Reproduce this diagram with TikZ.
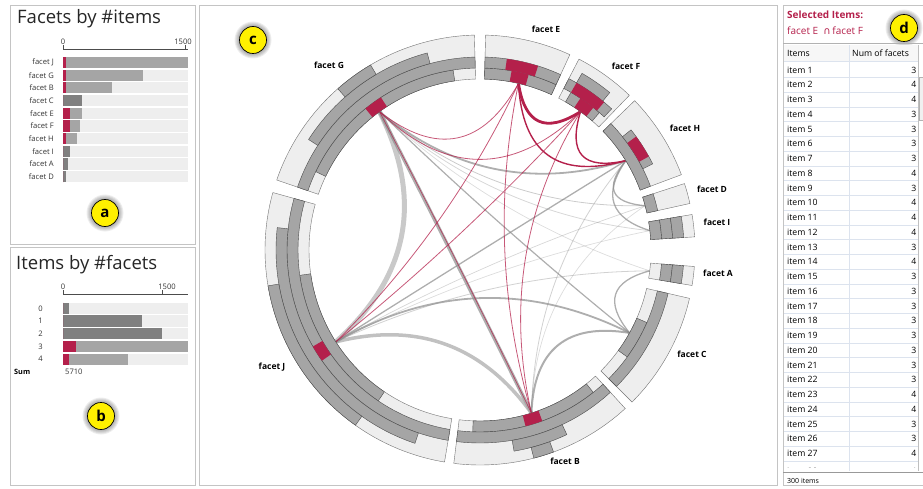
\documentclass[tikz,border=0pt]{standalone}
\usepackage{fontspec}
\setmainfont{Open Sans}
\newfontfamily\symfont{DejaVu Sans}
\usetikzlibrary{calc}

\definecolor{selred}{HTML}{B4204B}
\definecolor{barlight}{HTML}{EEEEEE}
\definecolor{barmid}{HTML}{A5A5A5}
\definecolor{bardark}{HTML}{808080}
\definecolor{frame}{HTML}{C4C4C4}
\definecolor{rowline}{HTML}{DCE3EE}
\definecolor{badgefill}{HTML}{FFF000}

% annular sector: angles #2,#3 and radii #4,#5
\newcommand{\ringsect}[5][]{%
  \draw[#1] (#2:#4) arc[start angle=#2,end angle=#3,radius=#4]
    -- (#3:#5) arc[start angle=#3,end angle=#2,radius=#5] -- cycle;}
% bar in ring #2 (1 = innermost)
\newcommand{\ringpart}[4][ringbar]{%
  \pgfmathsetmacro\rlo{160+11*#2}%
  \pgfmathsetmacro\rhi{171+11*#2}%
  \ringsect[#1]{#3}{#4}{\rlo}{\rhi}}
% link between two facets, quadratic, pulled towards the centre by #4
\newcommand{\chord}[4][]{%
  \path ($($(#2)!.5!(#3)$)!#4!(O)$) coordinate (ctl);
  \draw[#1] (#2) .. controls ($(#2)!.6667!(ctl)$) and ($(#3)!.6667!(ctl)$) .. (#3);}

\begin{document}
\begin{tikzpicture}[x=1pt,y=-1pt,
  panel/.style={draw=frame,line width=0.8pt},
  title/.style={font=\fontsize{18.5}{22}\selectfont,anchor=west,inner sep=0pt,text=black!85},
  small/.style={font=\fontsize{7.6}{9}\selectfont,inner sep=0pt,text=black!80},
  facetlab/.style={font=\bfseries\fontsize{8.5}{10}\selectfont,inner sep=1pt},
  facetbg/.style={fill=barlight,draw=black!55,line width=0.4pt},
  ringbar/.style={fill=barmid,draw=black!70,line width=0.4pt},
  ringsel/.style={fill=selred,draw=none},
  badge/.style={circle,draw=black,line width=0.7pt,fill=badgefill,minimum size=27pt,
    inner sep=0pt,font=\bfseries\fontsize{15}{15}\selectfont},
  cell/.style={font=\fontsize{8.7}{10}\selectfont,inner sep=0pt},
  redline/.style={draw=selred,line width=#1},
  grayline/.style={draw=black!45,line width=#1,opacity=.7},
]
\useasboundingbox (0,0) rectangle (923,489);

% panel frames
\draw[panel] (10,5) rectangle (195,244);
\draw[panel] (10,247) rectangle (195,485);
\draw[panel] (199,5) rectangle (777,485);
\draw[panel] (923,5) -- (783,5) -- (783,485) -- (923,485);

% glow behind the badges
\foreach \bx/\by in {105/213, 101/416, 253/40, 904/28}
  \foreach \g in {1,...,5}
    \fill[black,opacity=.07] (\bx,\by) circle (13.5+\g);

% ---- panel a
\node[title] (ttla) at (17,19) {Facets by \#items};
\draw[black!70,line width=0.6pt] (63,49) -- (188,49);
\draw[black!70] (63,49) -- (63,45) (185,49) -- (185,45);
\node[small] (ta0) at (63,42) {0};
\node[small] (ta1) at (183,42) {1500};
\foreach \lab/\sel/\len/\col [count=\i from 0] in
  {J/65.7/188/barmid, G/65.5/143.3/barmid, B/65.5/111.7/barmid, C/63/82.3/bardark,
   E/70/82.3/barmid, F/70/80.3/barmid, H/65.5/77.3/barmid, I/63/70/bardark,
   A/63/67.7/bardark, D/63/65.7/bardark}
{
  \pgfmathsetmacro\yy{62.5+12.7*\i}
  \fill[barlight] (63,\yy-5.6) rectangle (188,\yy+5.6);
  \fill[\col] (63,\yy-5.6) rectangle (\len,\yy+5.6);
  \fill[selred] (63,\yy-5.6) rectangle (\sel,\yy+5.6);
  \node[small,anchor=east] (fa\lab) at (54,\yy) {facet \lab};
}
\node[badge] (bada) at (105,213) {a};

% ---- panel b
\node[title] (ttlb) at (16,265) {Items by \#facets};
\draw[black!70,line width=0.6pt] (63,294) -- (188,294);
\draw[black!70] (63,294) -- (63,290) (161.7,294) -- (161.7,290);
\node[small] (tb0) at (63,287) {0};
\node[small] (tb1) at (167,287) {1500};
\foreach \lab/\sel/\len/\col [count=\i from 0] in
  {0/63/69/bardark, 1/63/141.7/bardark, 2/63/161.7/bardark,
   3/76/188/barmid, 4/69/128.3/barmid}
{
  \pgfmathsetmacro\yy{308.3+12.7*\i}
  \fill[barlight] (63,\yy-5.6) rectangle (188,\yy+5.6);
  \fill[\col] (63,\yy-5.6) rectangle (\len,\yy+5.6);
  \fill[selred] (63,\yy-5.6) rectangle (\sel,\yy+5.6);
  \node[small,anchor=east] (ib\lab) at (43,\yy) {\lab};
}
\node[small,anchor=west,font=\bfseries\fontsize{7.3}{8}\selectfont,text=black] (sum) at (14,372) {Sum};
\node[small,anchor=west] (sumv) at (65,372) {5710};
\node[badge] (badb) at (101,416) {b};

% ---- panel c: radial sets
\begin{scope}[shift={(480,250)}]
  \coordinate (O) at (0,0);
  \coordinate (fG) at (234:171);
  \coordinate (fE) at (-77:171);
  \coordinate (fF) at (-54:171);
  \coordinate (fH) at (-31.5:171);
  \coordinate (fD) at (-15:171);
  \coordinate (fI) at (-6.5:171);
  \coordinate (fA) at (7:171);
  \coordinate (fC) at (29:171);
  \coordinate (fB) at (72.5:171);
  \coordinate (fJ) at (147.5:171);

  % gray links
  \chord[grayline=5,draw=black!30]{fG}{fJ}{.72}
  \chord[grayline=3.5]{fG}{fB}{.05}
  \chord[grayline=3.5,draw=black!35]{fJ}{fB}{.52}
  \chord[grayline=1.8]{fJ}{fC}{.9}
  \chord[grayline=1.3]{fJ}{fH}{.5}
  \chord[grayline=.8,opacity=.4]{fJ}{fA}{.6}
  \chord[grayline=.7,opacity=.3]{fJ}{fI}{.6}
  \chord[grayline=.7,opacity=.35]{fJ}{fD}{.6}
  \chord[grayline=1.8]{fG}{fH}{.58}
  \chord[grayline=1.2]{fG}{fC}{.2}
  \chord[grayline=.8,opacity=.45]{fG}{fD}{.55}
  \chord[grayline=.8,opacity=.35]{fG}{fI}{.55}
  \chord[grayline=.7,opacity=.3]{fG}{fA}{.5}
  \chord[grayline=1.3]{fH}{fD}{.27}
  \chord[grayline=1.3]{fH}{fI}{.3}
  \chord[grayline=1.3]{fC}{fA}{.3}
  \chord[grayline=2]{fC}{fB}{.45}
  \chord[grayline=.8,opacity=.4]{fH}{fB}{.45}
  \chord[grayline=.7,opacity=.3]{fD}{fB}{.5}

  % links of the selection
  \chord[redline=.7,opacity=.75]{fG}{fB}{.1}
  \chord[redline=.8,opacity=.75]{fG}{fE}{.53}
  \chord[redline=.8,opacity=.75]{fG}{fF}{.69}
  \chord[redline=.8,opacity=.75]{fE}{fB}{.9}
  \chord[redline=.8,opacity=.75]{fF}{fB}{.8}
  \chord[redline=.8,opacity=.75]{fE}{fJ}{.43}
  \chord[redline=.8,opacity=.75]{fF}{fJ}{.4}
  \chord[redline=1.4]{fE}{fH}{.52}
  \chord[redline=1.4]{fF}{fH}{.34}
  \chord[redline=2.8]{fE}{fF}{.31}

  % facet arcs
  \foreach \a/\b in {-88.5/-65.3, -62.6/-46, -44/-20.5, -18/-12.5, -9.5/-3.5,
                     4.4/9.5, 13/45, 47.5/97, 99.5/195.5, 199/268.5}
    {\ringsect[facetbg]{\a}{\b}{171}{215}}
  % degree bars
  \foreach \k/\a/\b in {1/-88.5/-65.3, 2/-88.5/-65.3,
                        1/-60/-49, 2/-62.6/-47, 3/-60/-50.5,
                        1/-44/-20.5, 2/-38.5/-26.5,
                        1/-18/-12.5,
                        1/-9.5/-3.5, 2/-9.5/-3.5, 3/-9.5/-3.5,
                        2/4.4/9.5, 3/4.4/9.5,
                        1/23.5/36, 2/13/45,
                        1/51.5/92.3, 2/47.5/97, 3/64.8/80.4, 4/70/75.5,
                        1/124/172, 2/99.5/195.5, 3/108.6/186.3, 4/125.4/170.4,
                        1/205.5/261.5, 2/199/268.5, 3/212.8/255, 4/228.6/239.4}
    {\ringpart{\k}{\a}{\b}}
  % selected share
  \foreach \k/\a/\b in {1/-80/-74.5, 2/-82/-72.5, 1/-56.5/-51.5, 2/-60/-50,
                        2/-36/-29, 1/70/75.5, 2/145/150, 1/231/237}
    {\ringpart[ringsel]{\k}{\a}{\b}}
\end{scope}

\node[facetlab] (lE) at (546,29) {facet E};
\node[facetlab] (lF) at (626,66) {facet F};
\node[facetlab] (lG) at (329,65) {facet G};
\node[facetlab] (lH) at (685,128) {facet H};
\node[facetlab] (lD) at (712,189) {facet D};
\node[facetlab] (lI) at (717,222) {facet I};
\node[facetlab] (lA) at (718,273) {facet A};
\node[facetlab] (lC) at (692,354) {facet C};
\node[facetlab] (lB) at (565,461) {facet B};
\node[facetlab] (lJ) at (272,367) {facet J};
\node[badge] (badc) at (253,40) {c};

% ---- panel d
\node[font=\bfseries\fontsize{10}{12}\selectfont,text=selred,anchor=west,inner sep=0pt]
  (selt) at (787,15) {Selected Items:};
\node[font=\fontsize{10}{12}\selectfont,text=selred,anchor=west,inner sep=0pt]
  (selq) at (787,31) {facet E \ {\symfont ∩}\,facet F};
\draw[black!30] (783,43) -- (923,43);
\fill[black!3] (784,45) rectangle (918,61);
\draw[rowline] (784,61) -- (918,61);
\node[cell,anchor=west] (hitem) at (787,53) {Items};
\node[cell,anchor=west] (hnum) at (852,53) {Num of facets};
\foreach \v [count=\i] in {3,4,4,3,3,3,3,4,3,4,4,4,3,4,3,3,3,3,3,3,3,3,4,4,3,3,4}
{
  \pgfmathsetmacro\yy{70+(\i-1)*14.75}
  \draw[rowline] (784,\yy+7.4) -- (918,\yy+7.4);
  \node[cell,anchor=west] (it\i) at (787,\yy) {item \i};
  \node[cell,anchor=east] (nf\i) at (916.5,\yy) {\v};
}
\begin{scope}
  \clip (784,462) rectangle (918,467.5);
  \node[cell,anchor=west] (it28) at (787,471.5) {item 28};
  \node[cell,anchor=east] (nf28) at (916.5,471.5) {4};
\end{scope}
\draw[rowline] (849,45) -- (849,471);
\draw[black!25] (918,45) -- (918,471);
\draw[black!30,fill=black!6] (919,77) rectangle (923,120);
\draw[black!40] (783,472) -- (923,472);
\node[font=\fontsize{7}{8}\selectfont,anchor=west,inner sep=0pt] (cnt) at (787,481) {300 items};
\node[badge] (badd) at (904,28) {d};
\end{tikzpicture}
\end{document}
